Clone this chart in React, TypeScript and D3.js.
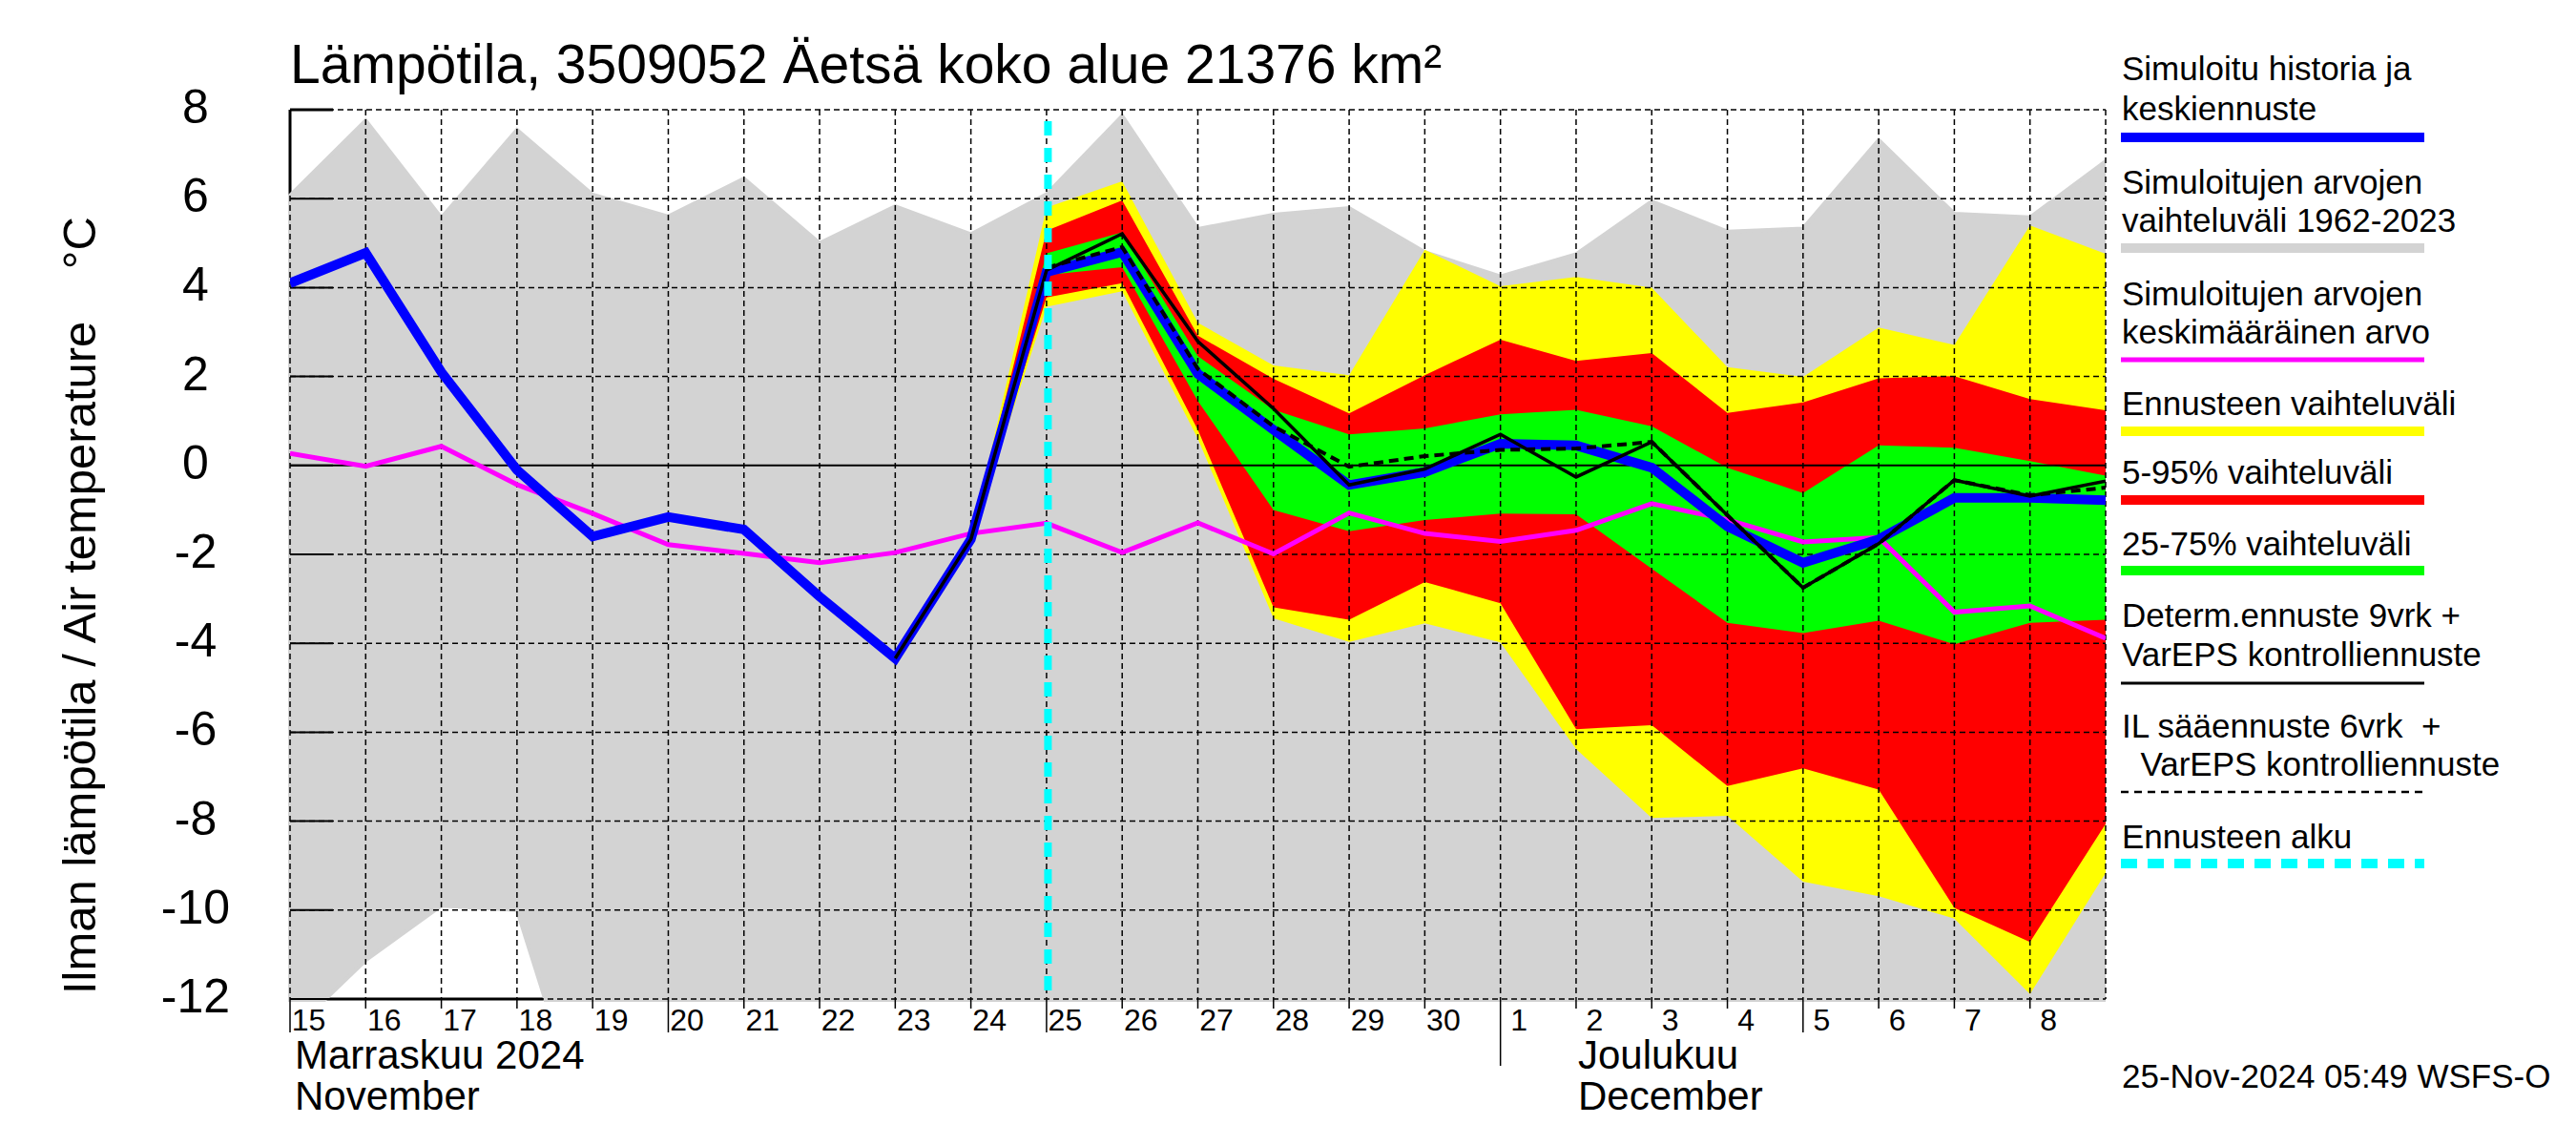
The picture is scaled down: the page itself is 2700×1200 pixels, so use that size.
import React from 'react';
import * as d3 from 'd3';

// Lämpötila, 3509052 Äetsä koko alue – daily values, day 0 = 15.11.2024

const startDate = new Date(2024, 10, 15);
const endDate = new Date(2024, 11, 9);

const yTicks = [8, 6, 4, 2, 0, -2, -4, -6, -8, -10, -12];

// simulated history + mean forecast (blue), 15.11 .. 9.12
const simulated = [4.1, 4.78, 2.1, -0.1, -1.6, -1.16, -1.44, -2.95, -4.34, -1.66, 4.35, 4.8, 2.06, 0.8, -0.44, -0.15, 0.49, 0.45, -0.05, -1.37, -2.19, -1.66, -0.73, -0.73, -0.78];
// mean of simulated values 1962-2023 (magenta)
const climMean = [0.27, -0.02, 0.43, -0.43, -1.08, -1.78, -1.98, -2.19, -1.96, -1.53, -1.3, -1.96, -1.29, -1.99, -1.07, -1.53, -1.71, -1.46, -0.86, -1.22, -1.72, -1.62, -3.3, -3.16, -3.89];
// range of simulated values 1962-2023 (grey)
const climMax = [6.07, 7.76, 5.57, 7.55, 6.09, 5.6, 6.45, 5.0, 5.83, 5.2, 6.1, 7.86, 5.32, 5.64, 5.79, 4.8, 4.25, 4.75, 5.94, 5.26, 5.33, 7.32, 5.66, 5.58, 6.84];
const climMin = [-12.77, -11.13, -9.9, -10.0, -15.4, -15, -15, -15, -15, -15, -15, -15, -15, -15, -15, -15, -15, -15, -15, -15, -15, -15, -15, -15, -15];

// forecast bands start on day 9 (24.11)
const fcStart = 9;
const ensMax = [-1.66, 5.8, 6.39, 3.21, 2.25, 2.03, 4.85, 4.03, 4.24, 4.0, 2.21, 1.99, 3.1, 2.71, 5.4, 4.76];
const p95 = [-1.66, 5.28, 5.96, 2.92, 1.95, 1.17, 2.03, 2.83, 2.35, 2.53, 1.18, 1.42, 1.96, 2.01, 1.49, 1.24];
const p75 = [-1.66, 4.77, 5.24, 2.46, 1.25, 0.7, 0.83, 1.15, 1.25, 0.88, -0.05, -0.62, 0.45, 0.4, 0.1, -0.23];
const p25 = [-1.66, 4.28, 4.46, 1.45, -1.0, -1.48, -1.23, -1.08, -1.1, -2.32, -3.54, -3.77, -3.49, -4.02, -3.54, -3.47];
const p05 = [-1.66, 3.78, 4.1, 0.8, -3.19, -3.47, -2.62, -3.1, -5.93, -5.84, -7.21, -6.81, -7.29, -9.95, -10.72, -8.06];
const ensMin = [-1.66, 3.57, 3.92, 0.6, -3.44, -3.97, -3.55, -3.98, -6.38, -7.93, -7.88, -9.36, -9.69, -10.19, -11.89, -9.17];

// determ. 9 vrk + VarEPS control (black), from day 8
const determStart = 8;
const determ = [-4.34, -1.66, 4.39, 5.21, 2.79, 1.28, -0.44, -0.08, 0.7, -0.26, 0.53, -1.12, -2.75, -1.76, -0.33, -0.69, -0.35];
// IL 6 vrk + VarEPS control (dashed), from day 10
const ilStart = 10;
const ilForecast = [4.45, 4.91, 2.17, 0.88, -0.03, 0.21, 0.35, 0.38, 0.53, -1.12, -2.75, -1.76, -0.33, -0.67, -0.5];

const forecastDay = 10;

const legendItems = [
  { lines: ['Simuloitu historia ja', 'keskiennuste'], color: '#0000ff', width: 10, dash: '' },
  { lines: ['Simuloitujen arvojen', 'vaihteluväli 1962-2023'], color: '#d3d3d3', width: 10, dash: '' },
  { lines: ['Simuloitujen arvojen', 'keskimääräinen arvo'], color: '#ff00ff', width: 5, dash: '' },
  { lines: ['Ennusteen vaihteluväli'], color: '#ffff00', width: 10, dash: '' },
  { lines: ['5-95% vaihteluväli'], color: '#ff0000', width: 10, dash: '' },
  { lines: ['25-75% vaihteluväli'], color: '#00ff00', width: 10, dash: '' },
  { lines: ['Determ.ennuste 9vrk +', 'VarEPS kontrolliennuste'], color: '#000000', width: 3, dash: '' },
  { lines: ['IL sääennuste 6vrk  +', '  VarEPS kontrolliennuste'], color: '#000000', width: 2.5, dash: '8,6' },
  { lines: ['Ennusteen alku'], color: '#00ffff', width: 10, dash: '17,11' },
];
const legendTextY = [[84, 126], [203, 243], [320, 360], [435], [507], [582], [657, 698], [773, 813], [889]];
const legendLineY = [144, 260, 377, 452, 524, 598, 716, 830, 905];

const font = '"Liberation Sans", Arial, Helvetica, sans-serif';

const left = 304, right = 2207, top = 115, bottom = 1047;

export default function App() {
  const x = d3.scaleTime().domain([startDate, endDate]).range([left, right]);
  const y = d3.scaleLinear().domain([-12, 8]).range([bottom, top]);
  const dx = (i: number) => x(d3.timeDay.offset(startDate, i));

  const band = (upper: number[], lower: number[], off: number) =>
    d3.area<number>()
      .x((_, i) => dx(off + i))
      .y1(d => y(d))
      .y0((_, i) => y(lower[i]))(upper) || '';
  const line = (vals: number[], off: number) =>
    d3.line<number>().x((_, i) => dx(off + i)).y(d => y(d))(vals) || '';

  const days = d3.timeDay.range(startDate, endDate);
  const tickLen = (d: Date) => (d.getDate() === 1 ? 70 : [5, 10, 15, 20, 25].includes(d.getDate()) ? 35 : 10);

  return (
    <svg width={2700} height={1200} style={{ position: 'fixed', left: 0, top: 0, background: '#fff' }}
      fontFamily={font}>
      <defs>
        <clipPath id="plot"><rect x={left} y={top} width={right - left} height={bottom - top} /></clipPath>
        <clipPath id="grey"><rect x={left - 3} y={top} width={right - left + 3} height={bottom - top + 3} /></clipPath>
      </defs>
      <rect width={2700} height={1200} fill="#fff" />

      {/* axis frame, partly hidden by the grey range */}
      <line x1={left} x2={left} y1={top} y2={bottom} stroke="#000" strokeWidth={3} />
      <line x1={left} x2={right} y1={bottom} y2={bottom} stroke="#000" strokeWidth={3} />

      <path d={band(climMax, climMin, 0)} fill="#d3d3d3" stroke="#d3d3d3" strokeWidth={4} clipPath="url(#grey)" />
      <g clipPath="url(#plot)">
        <path d={band(ensMax, ensMin, fcStart)} fill="#ffff00" />
        <path d={band(p95, p05, fcStart)} fill="#ff0000" />
        <path d={band(p75, p25, fcStart)} fill="#00ff00" />
      </g>

      {/* grid */}
      {d3.range(0, 25).map(i => (
        <line key={'v' + i} x1={dx(i)} x2={dx(i)} y1={top} y2={bottom} stroke="#000" strokeWidth={1.5} strokeDasharray="6,4" />
      ))}
      {yTicks.filter(v => v !== 0).map(v => (
        <line key={'h' + v} x1={left} x2={right} y1={y(v)} y2={y(v)} stroke="#000" strokeWidth={1.5} strokeDasharray="6,4" />
      ))}
      <line x1={left} x2={right} y1={y(0)} y2={y(0)} stroke="#000" strokeWidth={2} />
      {yTicks.map(v => (
        <line key={'t' + v} x1={left} x2={left + 45} y1={y(v)} y2={y(v)} stroke="#000" strokeWidth={v === 8 ? 3 : 2} />
      ))}

      {/* series */}
      <g clipPath="url(#plot)" fill="none" strokeLinejoin="miter">
        <path d={line(climMean, 0)} stroke="#ff00ff" strokeWidth={5} />
        <path d={line(simulated, 0)} stroke="#0000ff" strokeWidth={10} />
        <path d={line(determ, determStart)} stroke="#000" strokeWidth={3.5} />
        <path d={line(ilForecast, ilStart)} stroke="#000" strokeWidth={4} strokeDasharray="10,6" />
      </g>
      <line x1={dx(forecastDay) + 1.5} x2={dx(forecastDay) + 1.5} y1={top} y2={bottom} stroke="#00ffff" strokeWidth={8}
        strokeDasharray="15,13" strokeDashoffset={16} />

      {/* y axis */}
      {yTicks.map(v => (
        <text key={'yl' + v} x={205} y={y(v) + 14} fontSize={50} textAnchor="middle">{String(v)}</text>
      ))}
      <text transform={`translate(100,${bottom - 5}) rotate(-90)`} fontSize={49} style={{ whiteSpace: 'pre' }}>
        {'Ilman lämpötila / Air temperature    °C'}
      </text>

      {/* x axis */}
      {days.map(d => (
        <g key={d.toISOString()}>
          <line x1={x(d)} x2={x(d)} y1={bottom} y2={bottom + tickLen(d)} stroke="#000" strokeWidth={1.5} />
          <text x={x(d) + 19.5} y={1080} fontSize={32} textAnchor="middle">{d.getDate()}</text>
        </g>
      ))}
      <text x={x(startDate) + 5} y={1120} fontSize={42}>Marraskuu 2024</text>
      <text x={x(startDate) + 5} y={1163} fontSize={42}>November</text>
      <text x={x(new Date(2024, 11, 2)) + 2} y={1120} fontSize={42}>Joulukuu</text>
      <text x={x(new Date(2024, 11, 2)) + 2} y={1163} fontSize={42}>December</text>

      {/* title */}
      <text x={304} y={87} fontSize={57}>Lämpötila, 3509052 Äetsä koko alue 21376 km²</text>

      {/* legend */}
      {legendItems.map((it, k) => (
        <g key={'lg' + k}>
          {it.lines.map((t, j) => (
            <text key={j} x={2224} y={legendTextY[k][j]} fontSize={35} style={{ whiteSpace: 'pre' }}>{t}</text>
          ))}
          <line x1={2223} x2={2541} y1={legendLineY[k]} y2={legendLineY[k]} stroke={it.color}
            strokeWidth={it.width} strokeDasharray={it.dash || undefined} />
        </g>
      ))}
      <text x={2224} y={1140} fontSize={35}>25-Nov-2024 05:49 WSFS-O</text>
    </svg>
  );
}
